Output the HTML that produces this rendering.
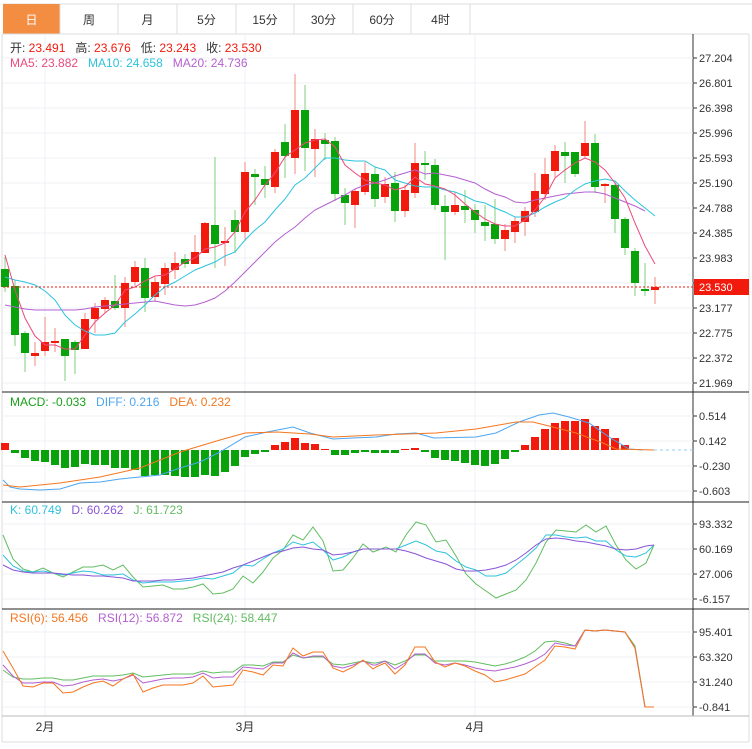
<!DOCTYPE html>
<html><head><meta charset="utf-8"><style>
body{margin:0;background:#fff;width:752px;height:749px;overflow:hidden;font-family:"Liberation Sans","Noto Sans CJK SC",sans-serif}
svg{position:absolute;left:0;top:0}
</style></head><body>
<svg id="s" width="752" height="749" xmlns="http://www.w3.org/2000/svg" font-family="Liberation Sans, Noto Sans CJK SC, sans-serif"></svg>
<script>
const S=document.getElementById('s');let h='';
const L=(x1,y1,x2,y2,c,w,d)=>h+=`<line x1="${x1}" y1="${y1}" x2="${x2}" y2="${y2}" stroke="${c}" stroke-width="${w||1}" ${d?`stroke-dasharray="${d}"`:''}/>`;
const R=(x,y,w,hh,f,s)=>h+=`<rect x="${x}" y="${y}" width="${w}" height="${hh}" fill="${f}" ${s?`stroke="${s}"`:''}/>`;
const T=(x,y,t,c,sz,a)=>h+=`<text x="${x}" y="${y}" fill="${c}" font-size="${sz||12}" ${a?`text-anchor="${a}"`:''}>${t}</text>`;
const P=(pts,c)=>h+=`<polyline fill="none" stroke="${c}" stroke-width="1" points="${pts.map(p=>p.join(',')).join(' ')}"/>`;
const tabs=['日','周','月','5分','15分','30分','60分','4时'];const tx=[3,60,118,177,236,294,353,411,470];
L(3,4,752,4,'#ddd');
tabs.forEach((t,i)=>{if(i==0)R(3,4,57,30,'#f28d42');L(tx[i+1],4,tx[i+1],34,'#ddd');T((tx[i]+tx[i+1])/2,24,t,i==0?'#fff':'#333',12,'middle');});
L(2,34,2,742,'#ddd');L(749,34,749,742,'#ddd');L(2,742,749,742,'#ddd');L(2,34,749,34,'#ddd');
L(693,34,693,716,'#333');
const mg=[58,83,108,133,158,183,208,233,258,283,308,333,358,383];
mg.forEach(y=>L(3,y,693,y,'#edf1f5'));
[416,441,466,491,524,549,574,599,632,657,682,707].forEach(y=>L(3,y,693,y,'#edf1f5'));
[45,245,475].forEach(x=>L(x,34,x,716,'#edf1f5'));
L(2,392,749,392,'#222');L(2,502,749,502,'#222');L(2,609,749,609,'#222');L(2,716,749,716,'#bbb');
const ml=['27.204','26.801','26.398','25.996','25.593','25.190','24.788','24.385','23.983','','23.177','22.775','22.372','21.969'];
mg.forEach((y,i)=>{L(693,y,697,y,'#333');if(ml[i])T(699,y+4,ml[i],'#333',11);});
const ax=(ys,ls)=>ys.forEach((y,i)=>{L(693,y,697,y,'#333');T(699,y+4,ls[i],'#333',11)});
ax([416,441,466,491],['0.514','0.142','-0.230','-0.603']);
ax([524,549,574,599],['93.332','60.169','27.006','-6.157']);
ax([632,657,682,707],['95.401','63.320','31.240','-0.841']);
T(45,731,'2月','#333',12,'middle');T(245,731,'3月','#333',12,'middle');T(475,731,'4月','#333',12,'middle');
const C=[[269,287,257,292,0],[286,335,280,346,0],[333,353,331,372,0],[353,356,342,366,1],[342,351,317,356,1],[341,343,328,352,1],[339,356,339,381,0],[342,350,340,374,0],[319,349,313,349,1],[308,319,303,333,1],[300,309,297,313,1],[301,308,275,310,0],[283,308,277,327,1],[267,282,261,286,1],[268,298,258,312,0],[282,297,277,302,1],[268,284,263,295,1],[263,270,252,279,1],[259,264,254,268,0],[252,264,235,264,1],[223,253,222,253,1],[225,244,157,268,0],[241,242,227,266,1],[220,232,210,253,0],[172,232,162,241,1],[174,177,169,205,0],[179,185,166,198,0],[152,187,149,193,1],[142,156,124,178,0],[110,158,74,174,1],[110,148,85,171,0],[139,149,129,177,1],[140,144,133,160,0],[141,194,137,201,0],[195,203,188,225,0],[191,205,189,228,1],[173,192,162,195,1],[174,199,167,207,0],[184,197,177,203,1],[183,211,172,222,0],[190,211,185,217,1],[163,193,143,198,1],[163,164,151,180,0],[165,205,159,210,0],[206,212,195,260,0],[205,212,192,215,1],[206,210,190,223,0],[210,220,204,233,0],[222,226,205,241,0],[224,239,199,244,0],[230,239,224,251,1],[221,232,217,243,1],[211,222,207,236,1],[191,212,173,217,1],[174,194,158,200,1],[151,171,145,177,1],[152,156,142,183,0],[152,174,152,177,0],[143,156,121,158,1],[143,187,134,193,0],[184,186,183,203,1],[185,219,183,233,0],[219,248,217,255,0],[251,283,248,296,0],[289,290,263,296,0],[287,290,277,304,1]];
C.forEach((c,i)=>{const x=5+10*i;const col=c[4]?'#f21a0c':'#08a20a';const wc=c[4]?'#f08a80':'#7fd07f';L(x,c[2],x,c[3],wc);R(x-4,c[0],8,Math.max(2,c[1]-c[0]),col);});
const X=a=>a.map((y,i)=>[5+10*i,y]);
P(X([305,307,309,310,310,310,310,310,309,307,306,305,304,303,302,301,303,305,306,305,302,298,291,282,272,262,252,242,234,227,218,210,205,200,195,189,185,183,180,176,173,170,174,173,175,177,180,183,189,194,197,202,203,200,198,196,194,193,192,192,194,198,202,206,211]),'#b460d0');
P(X([277,280,282,285,291,300,315,325,331,335,335,333,322,314,305,295,287,282,276,270,266,262,256,252,240,230,222,210,199,185,178,168,158,158,160,161,161,167,170,180,183,186,187,187,190,192,196,201,203,208,212,217,217,213,207,202,198,190,184,181,179,181,191,200,208,216]),'#2ec3dd');
P(X([255,290,318,336,345,345,349,349,335,322,313,305,290,287,281,276,275,269,262,258,249,247,243,232,212,200,185,173,157,150,143,140,139,147,165,173,180,183,185,190,187,177,184,186,189,195,204,212,219,224,226,226,220,210,197,178,170,163,158,162,170,183,198,223,246,264]),'#ec4a7c');
L(3,287,693,287,'#f21a0c',1,'2,2');
R(694,279,55,16,'#f21a0c');T(699,291,'23.530','#fff',11);
h+=`<text x="10" y="52" font-size="12" fill="#333" xml:space="preserve">开: <tspan fill="#f21a0c">23.491</tspan>   高: <tspan fill="#f21a0c">23.676</tspan>   低: <tspan fill="#f21a0c">23.243</tspan>   收: <tspan fill="#f21a0c">23.530</tspan></text>`;
h+=`<text x="10" y="67" font-size="12" fill="#ec4a7c" xml:space="preserve">MA5: 23.882   <tspan fill="#2ec3dd">MA10: 24.658</tspan>   <tspan fill="#b460d0">MA20: 24.736</tspan></text>`;
const M=[443,453,458,461,462,465,468,467,464,465,465,468,468,470,476,475,475,476,477,477,475,476,472,466,457,454,452,445,442,438,443,444,449,455,455,453,452,453,453,453,449,448,452,458,460,461,463,465,466,464,459,452,445,437,429,423,421,421,419,426,429,438,445,449,450,450];
M.forEach((y,i)=>{const x=5+10*i;if(Math.abs(y-450)<1)return;if(y<450)R(x-4,y,8,450-y,'#f21a0c');else R(x-4,450,8,y-450,'#08a20a');});
P([[3,480],[10,487],[20,489],[40,490],[60,489],[80,483],[100,482],[120,479],[140,477],[160,475],[180,468],[200,462],[220,452],[245,437],[267,432],[293,427],[310,433],[333,439],[353,438],[376,437],[396,434],[416,433],[434,438],[476,437],[496,433],[519,422],[539,415],[553,413],[569,417],[589,423],[609,437],[629,449],[643,450]],'#4da6f0');
P([[3,485],[20,487],[60,483],[100,477],[140,468],[180,452],[220,440],[245,433],[277,432],[310,434],[333,437],[376,435],[436,433],[476,429],[516,422],[533,422],[553,427],[576,433],[603,443],[616,449],[654,450]],'#f5761f');
L(654,450,693,450,'#8fd0f0',1,'3,3');
h+=`<text x="10" y="406" font-size="12" fill="#1aa01a" xml:space="preserve">MACD: -0.033   <tspan fill="#4da6f0">DIFF: 0.216</tspan>   <tspan fill="#f5761f">DEA: 0.232</tspan></text>`;
const J=[[3,535],[13,559],[23,569],[33,572],[43,568],[53,573],[63,577],[73,572],[83,567],[93,567],[103,565],[113,570],[123,565],[133,577],[143,587],[153,586],[163,585],[173,589],[183,589],[193,587],[203,584],[213,594],[223,593],[233,589],[243,576],[253,583],[263,572],[273,558],[283,550],[293,535],[303,540],[313,527],[323,541],[333,571],[343,570],[353,558],[363,544],[373,552],[386,547],[396,552],[406,535],[416,522],[426,525],[436,542],[446,540],[456,556],[466,574],[476,584],[486,591],[496,598],[506,594],[516,590],[526,580],[536,563],[546,542],[556,530],[566,531],[576,532],[586,525],[596,532],[606,526],[616,545],[626,560],[636,569],[646,563],[654,545]];
P(J,'#62bd62');
const KX=[3,13,23,33,43,53,63,73,83,93,103,113,123,133,143,153,163,173,183,193,203,213,223,233,243,253,263,273,283,293,303,313,323,333,343,353,363,373,386,396,406,416,426,436,446,456,466,476,486,496,506,516,526,536,546,556,566,576,586,596,606,616,626,636,646,654];
const K=[555,566,571,572,571,573,575,573,571,572,575,575,574,580,583,582,582,582,581,580,578,579,576,573,565,566,559,553,549,542,545,542,550,560,557,552,549,549,549,549,545,541,545,551,553,561,567,570,576,576,573,565,557,548,535,535,537,538,537,541,541,550,556,557,553,545];
const D=[565,570,572,573,573,573,574,575,575,576,576,577,578,581,581,581,580,580,579,578,576,574,572,568,565,561,557,553,551,548,547,549,550,555,554,552,549,549,549,549,551,554,558,561,564,569,571,571,570,568,565,560,553,545,539,538,539,541,542,544,546,549,550,549,546,545];
P(KX.map((x,i)=>[x,K[i]]),'#2ec3dd');P(KX.map((x,i)=>[x,D[i]]),'#8a55d6');
h+=`<text x="10" y="514" font-size="12" fill="#2ec3dd" xml:space="preserve">K: 60.749   <tspan fill="#8a55d6">D: 60.262</tspan>   <tspan fill="#62bd62">J: 61.723</tspan></text>`;
const R6=[651,668,686,687,683,683,693,692,687,683,681,686,679,674,692,688,685,685,685,683,676,687,686,685,670,672,675,665,666,648,656,652,652,668,672,667,660,669,667,663,674,665,647,647,662,667,663,666,671,675,682,680,677,674,667,660,646,647,649,630,631,630,631,632,648,707,707];
const R12=[665,676,683,683,682,682,686,685,682,680,679,681,679,675,683,681,679,678,678,677,673,678,677,677,667,668,669,663,663,653,658,656,656,666,668,665,661,665,665,661,669,663,654,654,663,665,663,665,668,670,671,669,667,664,660,654,643,645,646,630,631,630,631,632,648,707,707];
const R24=[670,677,679,679,678,678,680,680,678,676,676,676,675,673,677,676,675,674,674,674,671,673,672,672,665,665,666,662,662,655,658,657,657,664,665,663,661,663,663,661,665,661,655,655,661,661,661,661,662,664,666,664,661,657,651,642,641,643,646,630,631,630,631,632,646,707,707];
const RX=i=>i<38?3+10*i:(i==38?376:5+10*(i-1));
const rp=a=>a.map((y,i)=>[Math.min(RX(i),654),y]);
P(rp(R24),'#62bd62');P(rp(R12),'#b460d0');P(rp(R6),'#f5761f');
h+=`<text x="10" y="622" font-size="12" fill="#f5761f" xml:space="preserve">RSI(6): 56.456   <tspan fill="#b460d0">RSI(12): 56.872</tspan>   <tspan fill="#62bd62">RSI(24): 58.447</tspan></text>`;
S.innerHTML=h;
</script>
</body></html>
